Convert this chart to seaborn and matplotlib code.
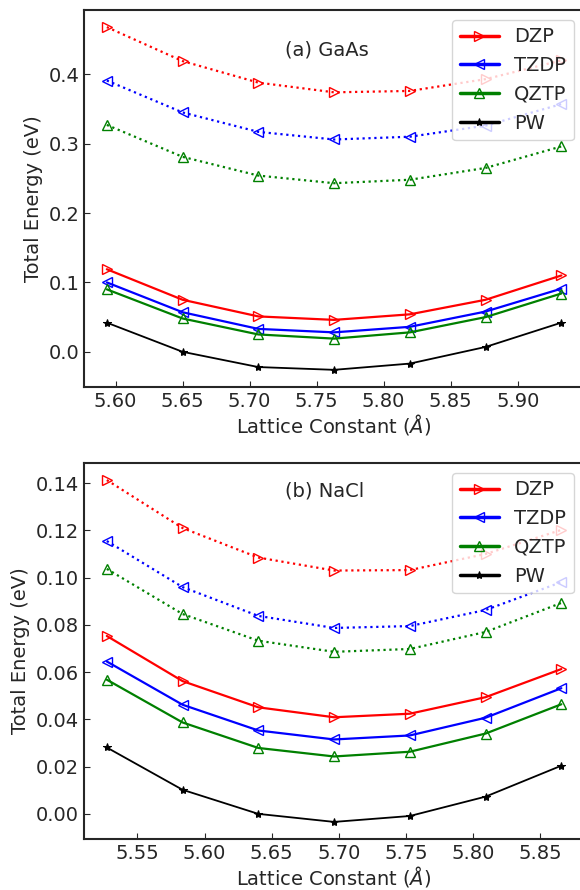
import numpy as np
import pandas as pd
import matplotlib
matplotlib.use('Agg')
import matplotlib.pyplot as plt
import seaborn as sns

# lattice constants (scaled around the reference value)
gaas_a = [5.5935, 5.65, 5.7065, 5.763, 5.8195, 5.876, 5.9325]
nacl_a = [5.5272, 5.5836, 5.64, 5.6964, 5.7528, 5.8092, 5.8656]

# GaAs energies (eV) - solid curves
gaas_dzp = [0.119, 0.075, 0.051, 0.046, 0.054, 0.075, 0.110]
gaas_tzdp = [0.100, 0.057, 0.033, 0.028, 0.036, 0.058, 0.091]
gaas_qztp = [0.090, 0.048, 0.025, 0.019, 0.028, 0.050, 0.084]
gaas_pw = [0.042, 0.000, -0.022, -0.026, -0.017, 0.007, 0.042]
# GaAs energies (eV) - dotted curves
gaas_dzp_d = [0.468, 0.419, 0.388, 0.374, 0.376, 0.393, 0.420]
gaas_tzdp_d = [0.391, 0.345, 0.317, 0.306, 0.310, 0.326, 0.357]
gaas_qztp_d = [0.327, 0.281, 0.254, 0.243, 0.248, 0.265, 0.296]

# NaCl energies (eV) - solid curves
nacl_dzp = [0.0753, 0.0562, 0.0451, 0.0409, 0.0424, 0.0494, 0.0613]
nacl_tzdp = [0.0645, 0.0462, 0.0353, 0.0315, 0.0332, 0.0407, 0.0532]
nacl_qztp = [0.0568, 0.0387, 0.0279, 0.0243, 0.0263, 0.0340, 0.0464]
nacl_pw = [0.0281, 0.0102, 0.0000, -0.0034, -0.0009, 0.0073, 0.0204]
# NaCl energies (eV) - dotted curves
nacl_dzp_d = [0.1413, 0.1210, 0.1085, 0.1030, 0.1032, 0.1100, 0.1202]
nacl_tzdp_d = [0.1155, 0.0960, 0.0838, 0.0787, 0.0795, 0.0863, 0.0981]
nacl_qztp_d = [0.1037, 0.0846, 0.0733, 0.0686, 0.0698, 0.0770, 0.0893]

methods = ['DZP', 'TZDP', 'QZTP', 'PW']
colors = {'DZP': 'red', 'TZDP': 'blue', 'QZTP': 'green', 'PW': 'black'}
markers = {'DZP': '>', 'TZDP': '<', 'QZTP': '^', 'PW': '*'}

sns.set_style('ticks')
plt.rcParams['font.family'] = ['DejaVu Sans']
plt.rcParams['font.size'] = 14
plt.rcParams['xtick.direction'] = 'in'
plt.rcParams['ytick.direction'] = 'in'

fig = plt.figure(figsize=(5.8, 8.9), dpi=100)
ax1 = fig.add_axes([0.145, 0.5652, 0.862, 0.4236])
ax2 = fig.add_axes([0.145, 0.0573, 0.862, 0.4225])

panels = [
    (ax1, gaas_a, [gaas_dzp, gaas_tzdp, gaas_qztp, gaas_pw],
     [gaas_dzp_d, gaas_tzdp_d, gaas_qztp_d], '(a) GaAs', 0.895),
    (ax2, nacl_a, [nacl_dzp, nacl_tzdp, nacl_qztp, nacl_pw],
     [nacl_dzp_d, nacl_tzdp_d, nacl_qztp_d], '(b) NaCl', 0.925),
]

for ax, a, solid, dotted, title, ty in panels:
    # dotted curves first
    for m, vals in zip(methods[:3], dotted):
        sns.lineplot(x=a, y=vals, ax=ax, color=colors[m], linestyle=':', lw=1.6,
                     marker=markers[m], ms=7, mfc='none', mec=colors[m], mew=1.0)
    for m, vals in zip(methods, solid):
        if m == 'PW':
            sns.lineplot(x=a, y=vals, ax=ax, color='black', lw=1.3, marker='*',
                         ms=6, mec='black', label=m)
        else:
            sns.lineplot(x=a, y=vals, ax=ax, color=colors[m], lw=1.6,
                         marker=markers[m], ms=7, mfc='none', mec=colors[m],
                         mew=1.0, label=m)
    ax.set_xlabel(r'Lattice Constant ($\AA$)', fontsize=14, labelpad=1)
    ax.set_ylabel('Total Energy (eV)', fontsize=14)
    ax.tick_params(labelsize=14, length=4)
    ax.text(0.402, ty, title, transform=ax.transAxes, fontsize=14, va='center')
    leg = ax.legend(loc='upper right', fontsize=14, numpoints=1)
    for h in leg.get_lines():
        h.set_linewidth(2.5)
    for sp in ax.spines.values():
        sp.set_linewidth(1.5)

ax1.set_xticks([5.60, 5.65, 5.70, 5.75, 5.80, 5.85, 5.90])
ax2.set_xticks([5.55, 5.60, 5.65, 5.70, 5.75, 5.80, 5.85])

fig.savefig('out.png', dpi=100)
